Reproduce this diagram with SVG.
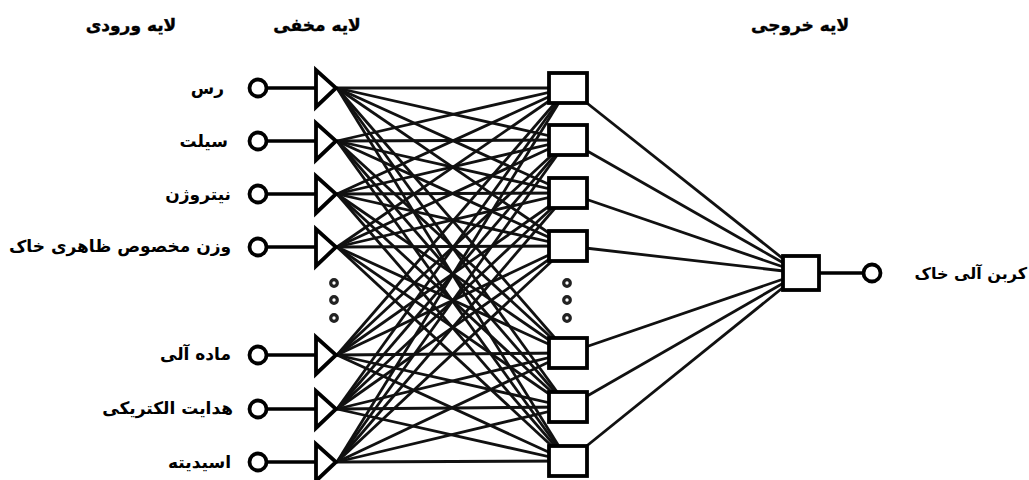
<svg xmlns="http://www.w3.org/2000/svg" width="1029" height="480" viewBox="0 0 1029 480">
<style>
.hdr{font-family:"DejaVu Sans",sans-serif;font-weight:bold;font-size:17px;fill:#000;stroke:#000;stroke-width:0.4}
.lbl{font-family:"DejaVu Sans",sans-serif;font-weight:bold;font-size:17px;fill:#000}
.shape{fill:#fff;stroke:#000;stroke-width:3.8}
.wire{stroke:#000;stroke-width:3.5;fill:none}
.conn line{stroke:#111;stroke-width:2.8}
.dot{fill:#fff;stroke:#222;stroke-width:3.2}
</style>
<rect width="1029" height="480" fill="#fff"/>
<g id="headers">
<text class="hdr" x="131" y="31" text-anchor="middle">لایه ورودی</text>
<text class="hdr" x="317" y="31" text-anchor="middle">لایه مخفی</text>
<text class="hdr" x="800" y="31" text-anchor="middle">لایه خروجی</text>
</g>
<g id="connectors" class="conn">
<line x1="337" y1="88" x2="568" y2="88"/><line x1="337" y1="88" x2="568" y2="140"/><line x1="337" y1="88" x2="568" y2="193"/><line x1="337" y1="88" x2="568" y2="246"/><line x1="337" y1="88" x2="568" y2="353"/><line x1="337" y1="88" x2="568" y2="407"/><line x1="337" y1="88" x2="568" y2="461"/>
<line x1="337" y1="141" x2="568" y2="88"/><line x1="337" y1="141" x2="568" y2="140"/><line x1="337" y1="141" x2="568" y2="193"/><line x1="337" y1="141" x2="568" y2="246"/><line x1="337" y1="141" x2="568" y2="353"/><line x1="337" y1="141" x2="568" y2="407"/><line x1="337" y1="141" x2="568" y2="461"/>
<line x1="337" y1="194" x2="568" y2="88"/><line x1="337" y1="194" x2="568" y2="140"/><line x1="337" y1="194" x2="568" y2="193"/><line x1="337" y1="194" x2="568" y2="246"/><line x1="337" y1="194" x2="568" y2="353"/><line x1="337" y1="194" x2="568" y2="407"/><line x1="337" y1="194" x2="568" y2="461"/>
<line x1="337" y1="247" x2="568" y2="88"/><line x1="337" y1="247" x2="568" y2="140"/><line x1="337" y1="247" x2="568" y2="193"/><line x1="337" y1="247" x2="568" y2="246"/><line x1="337" y1="247" x2="568" y2="353"/><line x1="337" y1="247" x2="568" y2="407"/><line x1="337" y1="247" x2="568" y2="461"/>
<line x1="337" y1="355" x2="568" y2="88"/><line x1="337" y1="355" x2="568" y2="140"/><line x1="337" y1="355" x2="568" y2="193"/><line x1="337" y1="355" x2="568" y2="246"/><line x1="337" y1="355" x2="568" y2="353"/><line x1="337" y1="355" x2="568" y2="407"/><line x1="337" y1="355" x2="568" y2="461"/>
<line x1="337" y1="409" x2="568" y2="88"/><line x1="337" y1="409" x2="568" y2="140"/><line x1="337" y1="409" x2="568" y2="193"/><line x1="337" y1="409" x2="568" y2="246"/><line x1="337" y1="409" x2="568" y2="353"/><line x1="337" y1="409" x2="568" y2="407"/><line x1="337" y1="409" x2="568" y2="461"/>
<line x1="337" y1="462" x2="568" y2="88"/><line x1="337" y1="462" x2="568" y2="140"/><line x1="337" y1="462" x2="568" y2="193"/><line x1="337" y1="462" x2="568" y2="246"/><line x1="337" y1="462" x2="568" y2="353"/><line x1="337" y1="462" x2="568" y2="407"/><line x1="337" y1="462" x2="568" y2="461"/>
<line x1="568" y1="88" x2="801" y2="273"/><line x1="568" y1="140" x2="801" y2="273"/><line x1="568" y1="193" x2="801" y2="273"/><line x1="568" y1="246" x2="801" y2="273"/><line x1="568" y1="353" x2="801" y2="273"/><line x1="568" y1="407" x2="801" y2="273"/><line x1="568" y1="461" x2="801" y2="273"/>
</g>
<g id="input-1"><line class="wire" x1="266" y1="88" x2="316" y2="88"/><circle class="shape" cx="258" cy="88" r="8.5"/><polygon class="shape" points="316,70 316,107 336,88"/><text class="lbl" x="224" y="94" text-anchor="end">رس</text></g>
<g id="input-2"><line class="wire" x1="266" y1="141" x2="316" y2="141"/><circle class="shape" cx="258" cy="141" r="8.5"/><polygon class="shape" points="316,123 316,160 336,141"/><text class="lbl" x="228" y="147" text-anchor="end">سیلت</text></g>
<g id="input-3"><line class="wire" x1="266" y1="194" x2="316" y2="194"/><circle class="shape" cx="258" cy="194" r="8.5"/><polygon class="shape" points="316,176 316,213 336,194"/><text class="lbl" x="231" y="200" text-anchor="end">نیتروژن</text></g>
<g id="input-4"><line class="wire" x1="266" y1="247" x2="316" y2="247"/><circle class="shape" cx="258" cy="247" r="8.5"/><polygon class="shape" points="316,229 316,266 336,247"/><text class="lbl" x="231" y="252" text-anchor="end">وزن مخصوص ظاهری خاک</text></g>
<g id="input-5"><line class="wire" x1="266" y1="355" x2="316" y2="355"/><circle class="shape" cx="258" cy="355" r="8.5"/><polygon class="shape" points="316,337 316,374 336,355"/><text class="lbl" x="231" y="360" text-anchor="end">ماده آلی</text></g>
<g id="input-6"><line class="wire" x1="266" y1="409" x2="316" y2="409"/><circle class="shape" cx="258" cy="409" r="8.5"/><polygon class="shape" points="316,391 316,428 336,409"/><text class="lbl" x="233" y="414" text-anchor="end">هدایت الکتریکی</text></g>
<g id="input-7"><line class="wire" x1="266" y1="462" x2="316" y2="462"/><circle class="shape" cx="258" cy="462" r="8.5"/><polygon class="shape" points="316,444 316,481 336,462"/><text class="lbl" x="231" y="468" text-anchor="end">اسیدیته</text></g>
<g id="input-dots"><circle class="dot" cx="334" cy="283" r="3.3"/><circle class="dot" cx="334" cy="300" r="3.3"/><circle class="dot" cx="334" cy="318" r="3.3"/></g>
<g id="hidden-1"><rect class="shape" x="549" y="73" width="38" height="30"/></g>
<g id="hidden-2"><rect class="shape" x="549" y="125" width="38" height="30"/></g>
<g id="hidden-3"><rect class="shape" x="549" y="178" width="38" height="30"/></g>
<g id="hidden-4"><rect class="shape" x="549" y="231" width="38" height="30"/></g>
<g id="hidden-5"><rect class="shape" x="549" y="338" width="38" height="30"/></g>
<g id="hidden-6"><rect class="shape" x="549" y="392" width="38" height="30"/></g>
<g id="hidden-7"><rect class="shape" x="549" y="446" width="38" height="30"/></g>
<g id="hidden-dots"><circle class="dot" cx="567" cy="283" r="3.3"/><circle class="dot" cx="567" cy="300" r="3.3"/><circle class="dot" cx="567" cy="318" r="3.3"/></g>
<g id="output"><line class="wire" x1="820" y1="273" x2="864" y2="273"/><rect class="shape" x="783" y="256" width="36" height="34"/><circle class="shape" cx="872" cy="273" r="8.5"/><text class="lbl" x="1027" y="279" text-anchor="end" style="font-size:16px">کربن آلی خاک</text></g>
</svg>
